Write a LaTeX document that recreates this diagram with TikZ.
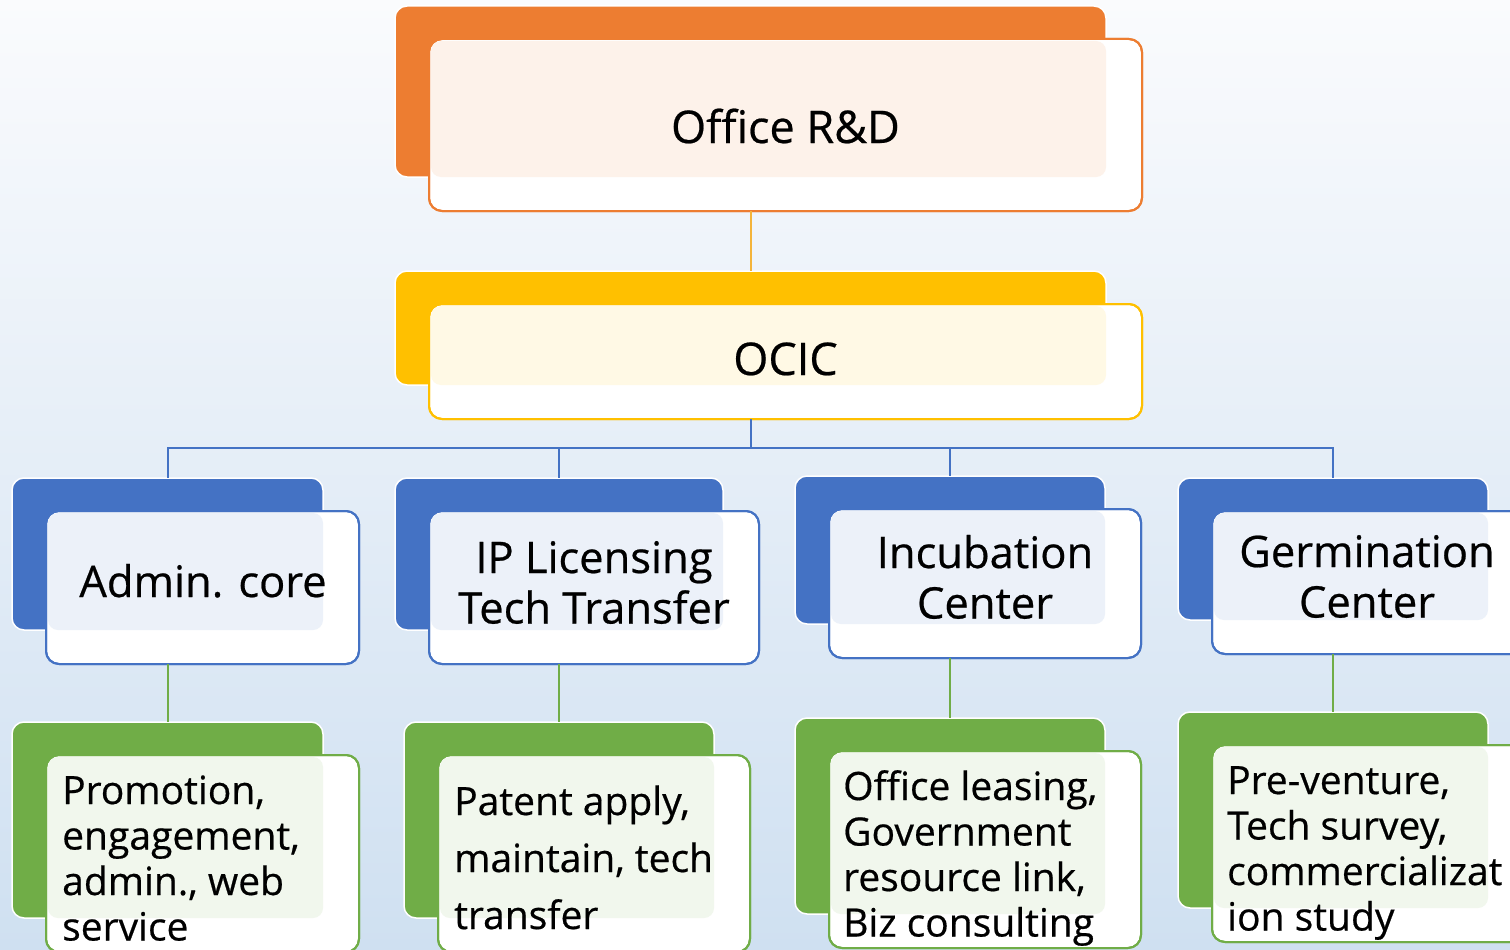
\documentclass[tikz,border=0pt]{standalone}
\usepackage{fontspec}
\setmainfont{Open Sans}
\newfontfamily\labelfont{Open Sans}[FakeBold=0.5]
\usetikzlibrary{calc}

\definecolor{ofcorange}{HTML}{ED7D31}
\definecolor{ocicyellow}{HTML}{FFC000}
\definecolor{unitblue}{HTML}{4472C4}
\definecolor{taskgreen}{HTML}{70AD47}
\definecolor{linkgold}{HTML}{F4B43A}
\definecolor{bgtop}{HTML}{FAFBFD}
\definecolor{bgbottom}{HTML}{CFE0F1}

% stacked lines, baseline of the node = baseline of the first line
\newcommand\cstack[1]{\vtop{\halign{\hfil##\hfil\cr#1\crcr}}}
\newcommand\lstack[1]{\vtop{\halign{##\hfil\cr#1\crcr}}}

\tikzset{
  backbox/.style={rectangle, rounded corners=12pt, draw=white, line width=1.5pt,
    inner sep=0pt, outer sep=0pt, anchor=north west},
  frontbox/.style={rectangle, rounded corners=13pt, fill=white, line width=2pt,
    inner sep=0pt, outer sep=0pt, anchor=north west},
  conn/.style={line width=2pt},
  titletext/.style={font=\labelfont\fontsize{45}{54}\selectfont, inner sep=0pt, anchor=base},
  unittext/.style={font=\labelfont\fontsize{43.5}{50.5}\selectfont, inner sep=0pt, anchor=base},
  tasktext/.style={font=\labelfont\fontsize{39}{45.5}\selectfont, inner sep=0pt, anchor=base west},
}

% #1 name, #2 colour, #3 #4 top-left of the back plate, #5 width, #6 height
\newcommand\tierbox[6]{%
  \node[backbox, fill=#2, minimum width=#5, minimum height=#6] (#1b) at (#3,#4) {};
  \node[frontbox, draw=#2, minimum width=#5+2, minimum height=#6+1]
    (#1f) at ($(#1b.north west)+(34,33)$) {};
  \fill[#2!10, rounded corners=10pt]
    ($(#1f.north west)+(2,2)$) rectangle (#1b.south east);
  \draw[#2, line width=2pt, rounded corners=13pt]
    (#1f.north west) rectangle (#1f.south east);
}

\begin{document}
\begin{tikzpicture}[x=1pt, y=-1pt]
  \useasboundingbox (0,0) rectangle (1510,950);
  \clip (0,0) rectangle (1510,950);
  \shade[top color=bgtop, bottom color=bgbottom] (0,0) rectangle (1510,950);

  % top levels
  \tierbox{off}{ofcorange}{395}{6}{711}{171}
  \tierbox{ocic}{ocicyellow}{395}{271}{711}{114}

  % units
  \tierbox{adm}{unitblue}{12}{478}{311}{152}
  \tierbox{ipl}{unitblue}{395}{478}{328}{152}
  \tierbox{inc}{unitblue}{795}{476}{310}{148}
  \tierbox{ger}{unitblue}{1178}{478}{310}{142}

  % tasks
  \tierbox{admt}{taskgreen}{12}{722}{311}{196}
  \tierbox{iplt}{taskgreen}{404}{722}{310}{196}
  \tierbox{inct}{taskgreen}{795}{718}{310}{196}
  \tierbox{gert}{taskgreen}{1178}{712}{310}{196}

  % labels
  \node[titletext] (offl) at (785.5,143) {Office R\&D};
  \node[titletext] (ocicl) at (785.5,375) {OCIC};
  \node[unittext] (adml) at (203,597) {Admin. core};
  \node[unittext] (ipll) at (594,573) {\cstack{IP Licensing\cr Tech Transfer}};
  \node[unittext] (incl) at (985,568) {\cstack{Incubation\cr Center}};
  \node[unittext] (gerl) at (1367,567) {\cstack{Germination\cr Center}};

  \node[tasktext] (admtl) at (62,804)
    {\lstack{Promotion,\cr engagement,\cr admin., web\cr service}};
  \node[tasktext, font=\labelfont\fontsize{39}{57}\selectfont] (iplt1) at (454,815)
    {\lstack{Patent apply,\cr maintain, tech\cr transfer}};
  \node[tasktext] (inctl) at (843,800)
    {\lstack{Office leasing,\cr Government\cr resource link,\cr Biz consulting}};
  \node[tasktext] (gertl) at (1227,794)
    {\lstack{Pre-venture,\cr Tech survey,\cr commercializat\cr ion study}};

  % connectors
  \coordinate (bus) at (750.5,448);
  \draw[conn, linkgold] (offb.south |- offf.south) -- (ocicb.north);
  \draw[conn, unitblue] (ocicb.south |- ocicf.south) -- (ocicb.south |- bus);
  \foreach \u in {adm, ipl, inc, ger}
    \draw[conn, unitblue] (ocicb.south |- bus) -| (\u b.north);
  \foreach \u in {adm, ipl, inc, ger}
    \draw[conn, taskgreen] (\u b.south |- \u f.south) -- (\u tb.north);
\end{tikzpicture}
\end{document}
